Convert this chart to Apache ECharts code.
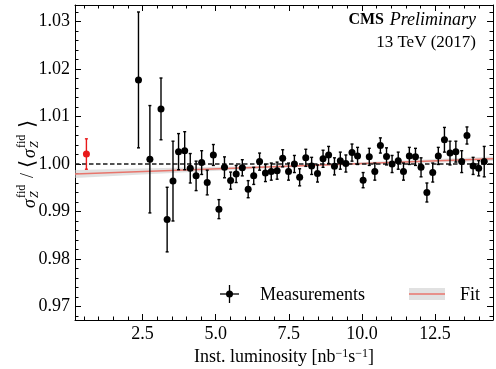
<!DOCTYPE html>
<html><head><meta charset="utf-8">
<script src="https://cdn.jsdelivr.net/npm/echarts@6.0.0/dist/echarts.min.js"></script>
<style>html,body{margin:0;padding:0;background:#fff}#c{width:496px;height:369px}</style>
</head><body><div id="c"></div>
<script>
// ---- data ----
var lumi = [2.36,2.75,3.13,3.34,3.54,3.73,3.94,4.13,4.33,4.52,4.71,4.92,5.11,5.30,5.51,5.70,5.91,6.11,6.30,6.50,6.70,6.90,7.10,7.29,7.49,7.69,7.87,8.08,8.28,8.48,8.67,8.86,9.06,9.26,9.45,9.66,9.85,10.04,10.25,10.44,10.63,10.84,11.03,11.24,11.42,11.62,11.83,12.02,12.22,12.42,12.61,12.82,13.01,13.21,13.41,13.59,13.80,13.99,14.18];
var ratio = [1.0177,1.0010,1.0116,0.9883,0.9964,1.0026,1.0028,0.9991,0.9975,1.0003,0.9961,1.0019,0.9905,0.9993,0.9965,0.9979,0.9992,0.9947,0.9975,1.0005,0.9981,0.9984,0.9986,1.0012,0.9984,1.0000,0.9972,1.0013,0.9996,0.9980,1.0011,1.0019,0.9995,1.0007,1.0001,1.0024,1.0017,0.9966,1.0015,0.9984,1.0039,1.0016,1.0000,1.0007,0.9984,1.0017,1.0015,0.9993,0.9940,0.9982,1.0017,1.0051,1.0023,1.0026,1.0005,1.0060,0.9996,0.9991,1.0005];
var ratioErr = [0.0143,0.0113,0.0065,0.0068,0.0084,0.0038,0.0040,0.0031,0.0031,0.0025,0.0026,0.0022,0.0020,0.0022,0.0018,0.0018,0.0017,0.0018,0.0018,0.0018,0.0018,0.0018,0.0018,0.0018,0.0018,0.0018,0.0018,0.0018,0.0018,0.0018,0.0018,0.0018,0.0018,0.0018,0.0018,0.0018,0.0018,0.0016,0.0018,0.0018,0.0016,0.0018,0.0018,0.0018,0.0018,0.0018,0.0018,0.0020,0.0020,0.0020,0.0018,0.0026,0.0025,0.0022,0.0023,0.0018,0.0018,0.0016,0.0032];
var lumiErr = 0.1;
var refLumi = [0.58];
var refRatio = [1.0021];
var refErr = [0.0032];
var fitX = [0.19, 14.48];
var fitY = [0.9979, 1.0011];
var bandX  = [0.19, 2, 4, 6, 8, 10, 12, 14.48];
var bandLo = [0.99705,0.99761,0.99824,0.99885,0.99940,0.99985,1.00022,1.00062];
var bandHi = [0.99875,0.99901,0.99928,0.99955,0.99990,1.00035,1.00088,1.00158];
var xMajor = [2.5,5.0,7.5,10.0,12.5];
var xMinor = [0.5,1,1.5,2,3,3.5,4,4.5,5.5,6,6.5,7,8,8.5,9,9.5,10.5,11,11.5,12,13,13.5,14];
var yMajor = [0.97,0.98,0.99,1.00,1.01,1.02,1.03];
var yMinor = [0.968,0.972,0.974,0.976,0.978,0.982,0.984,0.986,0.988,0.992,0.994,0.996,0.998,1.002,1.004,1.006,1.008,1.012,1.014,1.016,1.018,1.022,1.024,1.026,1.028,1.032];
var X_MIN = 0.19, X_MAX = 14.48, Y_MIN = 0.96716, Y_MAX = 1.03347;

var FONT = '"Liberation Serif", "Times New Roman", serif';
var chart = echarts.init(document.getElementById('c'), null, {renderer:'canvas'});

function mkX(pos, vals, len, showLine, showLabel, extra) {
  var a = {
    type:'value', position:pos, min:X_MIN, max:X_MAX, gridIndex:0,
    axisLine:{show:showLine, onZero:false, lineStyle:{color:'#000', width:1}},
    axisTick:{show:true, inside:true, length:len, customValues:vals, lineStyle:{color:'#000', width:1}},
    axisLabel:{show:showLabel, customValues:vals, color:'#000', fontFamily:FONT, fontSize:18, margin:5,
      formatter:function(v){return Number(v).toFixed(1);}},
    splitLine:{show:false}
  };
  return Object.assign(a, extra||{});
}
function mkY(pos, vals, len, showLine, showLabel) {
  return {
    type:'value', position:pos, min:Y_MIN, max:Y_MAX, gridIndex:0,
    axisLine:{show:showLine, onZero:false, lineStyle:{color:'#000', width:1}},
    axisTick:{show:true, inside:true, length:len, customValues:vals, lineStyle:{color:'#000', width:1}},
    axisLabel:{show:showLabel, customValues:vals, color:'#000', fontFamily:FONT, fontSize:18, margin:5,
      formatter:function(v){return Number(v).toFixed(2);}},
    splitLine:{show:false}
  };
}

var pts = lumi.map(function(x,i){return [x, ratio[i], ratioErr[i]];});
var refPts = refLumi.map(function(x,i){return [x, refRatio[i], refErr[i]];});
var band = bandX.map(function(x,i){return [x, bandLo[i], bandHi[i]];});

function errRender(color){
  return function(params, api){
    var x = api.value(0), y = api.value(1), e = api.value(2);
    var top = api.coord([x, y+e]), bot = api.coord([x, y-e]);
    var l = api.coord([x-lumiErr, y]), r = api.coord([x+lumiErr, y]);
    var st = {stroke:color, lineWidth:1.4};
    return {type:'group', children:[
      {type:'line', shape:{x1:top[0], y1:top[1], x2:bot[0], y2:bot[1]}, style:st},
      {type:'line', shape:{x1:top[0]-1.5, y1:top[1], x2:top[0]+1.5, y2:top[1]}, style:st},
      {type:'line', shape:{x1:bot[0]-1.5, y1:bot[1], x2:bot[0]+1.5, y2:bot[1]}, style:st},
      {type:'line', shape:{x1:l[0], y1:l[1], x2:r[0], y2:r[1]}, style:st}
    ]};
  };
}

var option = {
  animation:false,
  backgroundColor:'#fff',
  grid:{left:75, right:3, top:5, bottom:49, outerBoundsMode:'none', containLabel:false},
  xAxis:[
    mkX('bottom', xMajor, 6, true, true, {
      name:'{a|Inst. luminosity [nb}{s|−1}{a|s}{s|−1}{a|]}', nameLocation:'middle', nameGap:27,
      nameTextStyle:{color:'#000', fontFamily:FONT, fontSize:18,
        rich:{a:{fontFamily:FONT, fontSize:18, color:'#000'},
              s:{fontFamily:FONT, fontSize:12, color:'#000', verticalAlign:'top', padding:[0,0,6,0]}}}
    }),
    mkX('bottom', xMinor, 3.5, false, false),
    mkX('top', xMajor, 6, true, false),
    mkX('top', xMinor, 3.5, false, false)
  ],
  yAxis:[
    mkY('left', yMajor, 6, true, true),
    mkY('left', yMinor, 3.5, false, false),
    mkY('right', yMajor, 6, true, false),
    mkY('right', yMinor, 3.5, false, false)
  ],
  series:[
    {type:'custom', name:'band', xAxisIndex:0, yAxisIndex:0, z:1, data:band, silent:true,
     renderItem:function(params, api){
       if (params.dataIndex !== 0) return;
       var up = [], lo = [];
       for (var i=0;i<band.length;i++){
         up.push(api.coord([band[i][0], band[i][2]]));
         lo.unshift(api.coord([band[i][0], band[i][1]]));
       }
       return {type:'polygon', shape:{points:up.concat(lo)}, style:{fill:'rgba(200,200,200,0.55)'}};
     }},
    {type:'line', name:'Fit', data:fitX.map(function(x,i){return [x, fitY[i]];}), z:2,
     showSymbol:false, lineStyle:{color:'#e8756c', width:1.6}},
    {type:'line', name:'ref', data:[[X_MIN,1.0],[X_MAX,1.0]], z:3, showSymbol:false,
     lineStyle:{color:'#1a1a1a', width:1.3, type:[4.5,2.5]}},
    {type:'custom', name:'errs', data:pts, z:4, renderItem:errRender('#000')},
    {type:'scatter', name:'Measurements', data:pts, z:5, symbol:'circle', symbolSize:7,
     itemStyle:{color:'#000', opacity:1}},
    {type:'custom', name:'referrs', data:refPts, z:4, renderItem:errRender('#e8191a')},
    {type:'scatter', name:'refpt', data:refPts, z:5, symbol:'circle', symbolSize:7,
     itemStyle:{color:'#e8191a', opacity:1}}
  ],
  graphic:[
    // top-right labels
    {type:'text', x:384, y:20, style:{text:'CMS', fontFamily:FONT, fontWeight:'bold', fontSize:16, fill:'#000', align:'right', verticalAlign:'middle'}},
    {type:'text', x:476, y:20, style:{text:'Preliminary', fontFamily:FONT, fontStyle:'italic', fontSize:18, fill:'#000', align:'right', verticalAlign:'middle'}},
    {type:'text', x:476, y:43, style:{text:'13 TeV (2017)', fontFamily:FONT, fontSize:17, fill:'#000', align:'right', verticalAlign:'middle'}},
    // legend
    {type:'line', shape:{x1:220, y1:294, x2:239, y2:294}, style:{stroke:'#000', lineWidth:1.3}},
    {type:'line', shape:{x1:229.5, y1:285, x2:229.5, y2:303}, style:{stroke:'#000', lineWidth:1.3}},
    {type:'circle', shape:{cx:229.5, cy:294, r:3.5}, style:{fill:'#000'}},
    {type:'text', x:260, y:295, style:{text:'Measurements', fontFamily:FONT, fontSize:18, fill:'#000', align:'left', verticalAlign:'middle'}},
    {type:'rect', shape:{x:409, y:288, width:36, height:12}, style:{fill:'rgba(200,200,200,0.55)'}},
    {type:'line', shape:{x1:409, y1:294, x2:445, y2:294}, style:{stroke:'#e8756c', lineWidth:1.6}},
    {type:'text', x:460, y:295, style:{text:'Fit', fontFamily:FONT, fontSize:18, fill:'#000', align:'left', verticalAlign:'middle'}},
    // y-axis label (rotated)
    {type:'group', x:34, y:163, rotation:Math.PI/2, children:[
      {type:'text', x:-45, y:-4, style:{text:'σ', fontFamily:FONT, fontStyle:'italic', fontSize:18, fill:'#000', align:'left', verticalAlign:'middle'}},
      {type:'text', x:-35, y:-12, style:{text:'fid', fontFamily:FONT, fontSize:12, fill:'#000', align:'left', verticalAlign:'middle'}},
      {type:'text', x:-35, y:1, style:{text:'Z', fontFamily:FONT, fontStyle:'italic', fontSize:12, fill:'#000', align:'left', verticalAlign:'middle'}},
      {type:'text', x:-15, y:-6, style:{text:'/', fontFamily:FONT, fontSize:18, fill:'#000', align:'left', verticalAlign:'middle'}},
      {type:'text', x:-5, y:-6, style:{text:'⟨', fontFamily:FONT, fontSize:21, fill:'#000', align:'left', verticalAlign:'middle'}},
      {type:'text', x:5, y:-4, style:{text:'σ', fontFamily:FONT, fontStyle:'italic', fontSize:18, fill:'#000', align:'left', verticalAlign:'middle'}},
      {type:'text', x:15, y:-12, style:{text:'fid', fontFamily:FONT, fontSize:12, fill:'#000', align:'left', verticalAlign:'middle'}},
      {type:'text', x:15, y:1, style:{text:'Z', fontFamily:FONT, fontStyle:'italic', fontSize:12, fill:'#000', align:'left', verticalAlign:'middle'}},
      {type:'text', x:35, y:-6, style:{text:'⟩', fontFamily:FONT, fontSize:21, fill:'#000', align:'left', verticalAlign:'middle'}}
    ]}
  ]
};
chart.setOption(option);
</script>
</body></html>
